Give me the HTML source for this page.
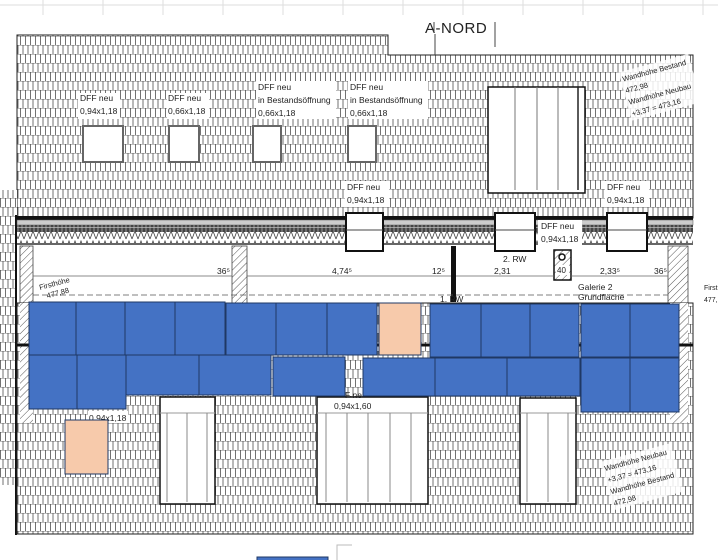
<!DOCTYPE html>
<html><head><meta charset="utf-8"><style>
html,body{margin:0;padding:0;background:#fff;width:718px;height:560px;overflow:hidden}
svg{display:block}
text{font-family:"Liberation Sans",sans-serif;fill:#222}
</style></head><body>
<svg width="718" height="560" viewBox="0 0 718 560" xmlns="http://www.w3.org/2000/svg">
<defs>
<pattern id="tile" width="10" height="18" patternUnits="userSpaceOnUse">
<rect width="10" height="18" fill="#fff"/>
<path d="M0 0.5H10M0 9.5H10" stroke="#777" stroke-width="0.6" fill="none"/>
<path d="M0.5 0V9M5.5 0V9M3 9V18M8 9V18" stroke="#444" stroke-width="0.75" fill="none"/>
</pattern>
<pattern id="hatch" width="5" height="5" patternUnits="userSpaceOnUse" patternTransform="rotate(45)">
<rect width="5" height="5" fill="#fff"/><path d="M0 0V5" stroke="#555" stroke-width="1"/>
</pattern>
<pattern id="zig" width="6" height="10" patternUnits="userSpaceOnUse">
<rect width="6" height="10" fill="#fff"/><path d="M0 9L3 1L6 9" stroke="#444" stroke-width="0.8" fill="none"/>
</pattern>
<pattern id="dark" width="4" height="7" patternUnits="userSpaceOnUse">
<rect width="4" height="7" fill="#444"/><path d="M0 3.5H4M2 0V7" stroke="#bbb" stroke-width="0.7"/>
</pattern>
</defs>

<path d="M0 5H718" stroke="#ddd"/>
<g stroke="#ddd"><path d="M43 0V15M103 0V15M163 0V15M223 0V15M283 0V15M343 0V15M403 0V15M463 0V15M523 0V15M583 0V15M643 0V15M703 0V15"/></g>

<path d="M17 35H388V55H693V218H17Z" fill="url(#tile)" stroke="#222" stroke-width="1"/>
<rect x="0" y="190" width="17" height="295" fill="url(#tile)"/>
<path d="M16 215V535" stroke="#111" stroke-width="2"/>

<text x="425" y="33" font-size="15" style="letter-spacing:0.5px">A-NORD</text>
<path d="M434 22V33M495 22V47M435 34V55" stroke="#444" stroke-width="1"/>

<g fill="#fff" stroke="#666" stroke-width="2">
<rect x="83" y="126" width="40" height="36"/>
<rect x="169" y="126" width="30" height="36"/>
<rect x="253" y="126" width="28" height="36"/>
<rect x="348" y="126" width="28" height="36"/>
</g>
<g fill="#fff">
<rect x="78" y="93" width="42" height="26"/>
<rect x="167" y="93" width="42" height="26"/>
<rect x="256" y="81" width="80" height="38"/>
<rect x="348" y="81" width="80" height="38"/>
</g>
<g font-size="8.5">
<text x="80" y="101">DFF neu</text><text x="80" y="114">0,94x1,18</text>
<text x="168" y="101">DFF neu</text><text x="168" y="114">0,66x1,18</text>
<text x="258" y="90">DFF neu</text><text x="258" y="103">in Bestandsöffnung</text><text x="258" y="116">0,66x1,18</text>
<text x="350" y="90">DFF neu</text><text x="350" y="103">in Bestandsöffnung</text><text x="350" y="116">0,66x1,18</text>
</g>

<rect x="488" y="87" width="97" height="106" fill="#fff" stroke="#111" stroke-width="1.5"/>
<path d="M515 87V190M537 87V190M558 87V190" stroke="#777"/>
<path d="M578 87V190" stroke="#222" stroke-width="1.5"/>

<g font-size="7.5" transform="rotate(-15 660 80)">
<rect x="622" y="62" width="72" height="50" fill="#fff" opacity="0.85"/>
<text x="624" y="72">Wandhöhe Bestand</text>
<text x="624" y="84">472,98</text>
<text x="624" y="96">Wandhöhe Neubau</text>
<text x="624" y="108">+3,37 = 473,16</text>
</g>

<rect x="17" y="216" width="676" height="4" fill="#111"/>
<rect x="17" y="220" width="676" height="5" fill="#ccc" stroke="#555" stroke-width="0.5"/>
<rect x="17" y="225" width="676" height="7" fill="url(#dark)"/>
<rect x="17" y="232" width="676" height="11" fill="url(#zig)"/>
<path d="M17 244H693" stroke="#333" stroke-width="1.5"/>
<rect x="17" y="245" width="676" height="58" fill="#fff"/>
<rect x="20" y="246" width="13" height="180" fill="url(#hatch)" stroke="#444" stroke-width="0.8"/>
<rect x="232" y="246" width="15" height="57" fill="url(#hatch)" stroke="#444" stroke-width="0.8"/>
<rect x="668" y="246" width="20" height="180" fill="url(#hatch)" stroke="#444" stroke-width="0.8"/>
<rect x="451" y="246" width="5" height="56" fill="#111"/>

<g fill="#fff" stroke="#111">
<rect x="346" y="213" width="37" height="38" stroke-width="2"/>
<rect x="495" y="213" width="40" height="38" stroke-width="2"/>
<rect x="607" y="213" width="40" height="38" stroke-width="2"/>
</g>
<g stroke="#444"><path d="M346 230H383M495 230H535M607 230H647"/></g>
<rect x="345" y="181" width="44" height="26" fill="#fff"/>
<rect x="605" y="181" width="44" height="26" fill="#fff"/>
<rect x="538" y="220" width="44" height="26" fill="#fff"/>
<g font-size="8.5">
<text x="347" y="190">DFF neu</text><text x="347" y="203">0,94x1,18</text>
<text x="607" y="190">DFF neu</text><text x="607" y="203">0,94x1,18</text>
<text x="541" y="229">DFF neu</text><text x="541" y="242">0,94x1,18</text>
</g>

<rect x="554" y="250" width="17" height="30" fill="url(#hatch)" stroke="#111" stroke-width="1.5"/>
<circle cx="562" cy="257" r="3" fill="#fff" stroke="#111" stroke-width="1.5"/>
<rect x="556" y="265" width="13" height="10" fill="#fff"/>
<text x="557" y="273" font-size="8">40</text>

<path d="M33 276H232M247 276H451M456 276H554M571 276H668" stroke="#666" stroke-width="0.7"/>
<path d="M33 295H668" stroke="#555" stroke-width="0.8" stroke-dasharray="6 3"/>
<g font-size="8.5">
<text x="217" y="274">36⁵</text>
<text x="332" y="274">4,74⁵</text>
<text x="432" y="274">12⁵</text>
<text x="494" y="274">2,31</text>
<text x="600" y="274">2,33⁵</text>
<text x="654" y="274">36⁵</text>
<text x="503" y="262">2. RW</text>
<text x="578" y="290">Galerie 2</text>
<text x="578" y="300">Grundfläche</text>
<text x="440" y="302">1. RW</text>
</g>
<g font-size="7.5" transform="rotate(-15 40 290)">
<text x="40" y="290">Firsthöhe</text><text x="45" y="300">477,88</text>
</g>
<text x="704" y="290" font-size="7">Firsth</text>
<text x="704" y="302" font-size="7">477,</text>

<rect x="17" y="303" width="676" height="231" fill="url(#tile)" stroke="#222" stroke-width="1"/>
<rect x="20" y="303" width="13" height="120" fill="url(#hatch)"/>
<rect x="670" y="303" width="18" height="120" fill="url(#hatch)"/>
<path d="M17 345H693" stroke="#111" stroke-width="3"/>

<g fill="#fff" stroke="#111" stroke-width="1.5">
<rect x="160" y="397" width="55" height="107"/>
<rect x="317" y="397" width="111" height="107"/>
<rect x="520" y="398" width="56" height="106"/>
</g>
<path d="M160 413H215M317 413H428M520 413H576" stroke="#999"/>
<path d="M167 413V502M187 413V502M207 413V502M326 413V502M347 413V502M368 413V502M390 413V502M411 413V502M527 413V502M548 413V502M568 413V502" stroke="#888"/>
<rect x="88" y="411" width="40" height="12" fill="#fff"/>
<g font-size="8.5"><text x="89" y="421">0,94x1,18</text><text x="334" y="409">0,94x1,60</text><text x="345" y="398">F ne</text></g>

<g font-size="7.5" transform="rotate(-15 640 470)">
<rect x="604" y="452" width="72" height="50" fill="#fff" opacity="0.85"/>
<text x="606" y="462">Wandhöhe Neubau</text>
<text x="606" y="474">+3,37 = 473,16</text>
<text x="606" y="486">Wandhöhe Bestand</text>
<text x="606" y="498">472,98</text>
</g>

<g fill="#f7caab" stroke="#1f3864" stroke-width="1">
<rect x="379" y="303" width="42" height="52"/>
<rect x="65" y="420" width="43" height="54"/>
</g>
<g fill="#4472c4" stroke="#1f3864" stroke-width="1">
<rect x="29" y="302" width="47" height="53"/><rect x="76" y="302" width="49" height="53"/>
<rect x="125" y="302" width="50" height="53"/><rect x="175" y="302" width="50" height="53"/>
<rect x="226" y="303" width="50" height="52"/><rect x="276" y="303" width="51" height="52"/>
<rect x="327" y="303" width="50" height="52"/>
<rect x="430" y="304" width="51" height="53"/><rect x="481" y="304" width="49" height="53"/>
<rect x="530" y="304" width="49" height="53"/>
<rect x="581" y="304" width="49" height="53"/><rect x="630" y="304" width="49" height="53"/>
<rect x="29" y="355" width="48" height="54"/><rect x="77" y="355" width="49" height="54"/>
<rect x="126" y="355" width="73" height="40"/><rect x="199" y="355" width="72" height="40"/>
<rect x="273" y="357" width="72" height="39"/>
<rect x="363" y="358" width="72" height="38"/><rect x="435" y="358" width="72" height="38"/>
<rect x="507" y="358" width="73" height="38"/>
<rect x="581" y="358" width="49" height="54"/><rect x="630" y="358" width="49" height="54"/>
<rect x="257" y="557" width="71" height="6"/>
</g>
<path d="M337 560V545H352" stroke="#bbb" fill="none"/>
</svg>
</body></html>
